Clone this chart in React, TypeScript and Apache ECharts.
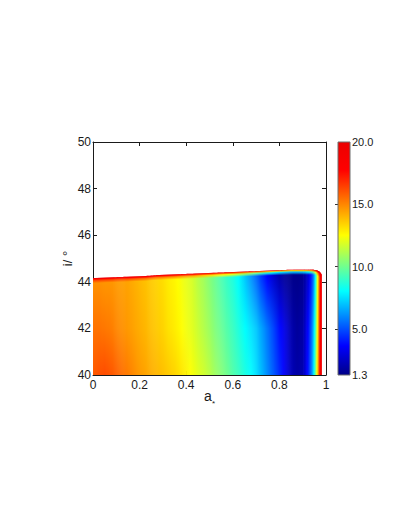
import React, { useEffect, useRef } from "react";
import * as echarts from "echarts";

// spin parameter a* sample positions (last one = right boundary of the region)
const A_STAR = [
  0, 0.025, 0.05, 0.075, 0.1, 0.125, 0.15, 0.175, 0.2, 0.225, 0.25, 0.275, 0.3,
  0.325, 0.35, 0.375, 0.4, 0.425, 0.45, 0.475, 0.5, 0.525, 0.55, 0.575, 0.6,
  0.625, 0.65, 0.675, 0.7, 0.725, 0.75, 0.775, 0.8, 0.825, 0.85, 0.875, 0.9,
  0.915, 0.93, 0.94, 0.948, 0.955, 0.962, 0.968, 0.974, 0.98,
];
// values at i = 40°
const VAL_I40 = [
  15.9, 16.1, 16.2, 16.0, 15.8, 15.5, 15.2, 14.9, 14.6, 14.4, 14.2, 14.0, 13.8,
  13.6, 13.4, 13.1, 12.8, 12.4, 12.0, 11.7, 11.3, 10.8, 10.4, 10.0, 9.5,
  9.1, 8.6, 8.1, 7.5, 6.8, 6.0, 5.2, 4.4, 3.3, 2.3, 1.9, 2.1,
  3.2, 4.8, 6.2, 7.9, 10.0, 12.8, 15.3, 17.8, 20.0,
];
// values at i = 42°
const VAL_I42 = [
  15.4, 15.4, 15.3, 15.2, 15.0, 14.8, 14.6, 14.4, 14.2, 14.0, 13.8, 13.6, 13.4,
  13.1, 12.9, 12.6, 12.3, 12.0, 11.6, 11.2, 10.8, 10.3, 9.9, 9.5, 9.1,
  8.6, 8.1, 7.6, 7.1, 6.4, 5.6, 4.8, 3.9, 3.0, 2.1, 1.7, 1.9,
  3.0, 4.4, 5.7, 7.3, 9.2, 12.0, 14.7, 17.4, 20.0,
];
// values just below the upper boundary
const VAL_TOP = [
  14.8, 14.8, 14.7, 14.7, 14.6, 14.5, 14.4, 14.2, 14.0, 13.8, 13.6, 13.4, 13.2,
  12.9, 12.7, 12.4, 12.1, 11.8, 11.3, 10.9, 10.4, 9.9, 9.4, 9.0, 8.6,
  8.0, 7.2, 6.3, 5.4, 4.5, 3.6, 2.7, 2.0, 1.6, 1.4, 1.35, 1.5,
  2.2, 3.4, 4.6, 6.0, 8.2, 11.2, 14.2, 17.0, 20.0,
];
// upper boundary of the allowed region, i (deg)
const I_EDGE = [
  44.16, 44.17, 44.18, 44.19, 44.2, 44.21, 44.22, 44.23, 44.24, 44.25, 44.27,
  44.29, 44.3, 44.31, 44.32, 44.33, 44.34, 44.35, 44.36, 44.37, 44.38, 44.39,
  44.4, 44.41, 44.42, 44.43, 44.44, 44.45, 44.46, 44.47, 44.48, 44.49, 44.5,
  44.51, 44.52, 44.52, 44.52, 44.52, 44.52, 44.52, 44.51, 44.5, 44.48, 44.45,
  44.4, 44.3,
];
const EDGE_VALUE = 20;
const I_MIN = 40;
const I_MID = 42;

const CBAR_MIN = 1.3;
const CBAR_MAX = 20;
const CBAR_LABELS = [1.3, 5, 10, 15, 20];
const CBAR_TICKS = [5, 10, 15];

const CMAP: [number, number[]][] = [
  [0, [0, 0, 135]],
  [0.125, [0, 0, 255]],
  [0.36, [0, 255, 255]],
  [0.6, [255, 255, 0]],
  [0.88, [255, 0, 0]],
  [1, [235, 0, 0]],
];

const FONT = "'Liberation Sans', Arial, Helvetica, sans-serif";
const INK = "#1a1a1a";
const SUBSTEPS = 6;

function colorAt(v: number): string {
  let f = (v - CBAR_MIN) / (CBAR_MAX - CBAR_MIN);
  f = Math.max(0, Math.min(1, f));
  for (let s = 1; s < CMAP.length; s++) {
    const [f1, c1] = CMAP[s];
    const [f0, c0] = CMAP[s - 1];
    if (f <= f1) {
      const t = (f - f0) / (f1 - f0 || 1);
      const c = c0.map((x, j) => Math.round(x + (c1[j] - x) * t));
      return `rgb(${c[0]},${c[1]},${c[2]})`;
    }
  }
  const c = CMAP[CMAP.length - 1][1];
  return `rgb(${c[0]},${c[1]},${c[2]})`;
}

const mix = (p: number, q: number, t: number) => p + (q - p) * t;

export default function App() {
  const ref = useRef<HTMLDivElement>(null);
  useEffect(() => {
    if (!ref.current) return;
    const chart = echarts.init(ref.current, undefined, { renderer: "svg" });
    const n = A_STAR.length;

    const fieldItem = (params: any, api: any) => {
      const k = params.dataIndex;
      if (k >= n - 1) return { type: "group", children: [] };
      const children: any[] = [];
      for (let s = 0; s < SUBSTEPS; s++) {
        const t0 = s / SUBSTEPS;
        const t1 = (s + 1) / SUBSTEPS;
        const tm = (t0 + t1) / 2;
        const left = mix(A_STAR[k], A_STAR[k + 1], t0);
        const right = mix(A_STAR[k], A_STAR[k + 1], t1);
        const top = mix(I_EDGE[k], I_EDGE[k + 1], tm);
        const v40 = mix(VAL_I40[k], VAL_I40[k + 1], tm);
        const v42 = mix(VAL_I42[k], VAL_I42[k + 1], tm);
        const vt = mix(VAL_TOP[k], VAL_TOP[k + 1], tm);
        const p0 = api.coord([left, I_MIN]);
        const p1 = api.coord([right, top]);
        const span = top - I_MIN;
        const off = (i: number) => Math.max(0, Math.min(1, (i - I_MIN) / span));
        const stops = [
          { offset: 0, color: colorAt(v40) },
          { offset: off(I_MID), color: colorAt(v42) },
          { offset: off(top - 0.22), color: colorAt(vt) },
          { offset: off(top - 0.1), color: colorAt(vt + 0.3 * (EDGE_VALUE - vt)) },
          { offset: off(top - 0.04), color: colorAt(vt + 0.65 * (EDGE_VALUE - vt)) },
          { offset: 1, color: colorAt(EDGE_VALUE) },
        ];
        const last = k === n - 2 && s === SUBSTEPS - 1;
        children.push({
          type: "rect",
          shape: {
            x: p0[0],
            y: p1[1],
            width: p1[0] - p0[0] + (last ? 0 : 0.6),
            height: p0[1] - p1[1],
          },
          style: { fill: new echarts.graphic.LinearGradient(0, 1, 0, 0, stops) },
        });
      }
      return { type: "group", children };
    };

    const cbarItem = (_params: any, api: any) => {
      const p0 = api.coord([0, CBAR_MIN]);
      const p1 = api.coord([1, CBAR_MAX]);
      const stops = CMAP.map(([f, c]) => ({ offset: f, color: `rgb(${c[0]},${c[1]},${c[2]})` }));
      return {
        type: "rect",
        shape: { x: p0[0], y: p1[1], width: p1[0] - p0[0], height: p0[1] - p1[1] },
        style: {
          fill: new echarts.graphic.LinearGradient(0, 1, 0, 0, stops),
          stroke: "#6e6e6e",
          lineWidth: 1,
        },
      };
    };

    const lineStyle = { color: INK, width: 1 };
    const mainLabel = { fontSize: 12, color: INK, fontFamily: FONT };

    chart.setOption({
      animation: false,
      backgroundColor: "#ffffff",
      textStyle: { fontFamily: FONT },
      grid: [
        { left: 93, top: 142, width: 233, height: 233 },
        { left: 338, top: 142, width: 12, height: 233 },
      ],
      xAxis: [
        {
          gridIndex: 0,
          type: "value",
          min: 0,
          max: 1,
          interval: 0.2,
          position: "bottom",
          axisLine: { show: true, onZero: false, lineStyle },
          axisTick: { show: true, inside: true, length: 4, lineStyle },
          axisLabel: { ...mainLabel, margin: 4 },
          splitLine: { show: false },
        },
        {
          gridIndex: 0,
          type: "value",
          min: 0,
          max: 1,
          interval: 0.2,
          position: "top",
          axisLine: { show: true, onZero: false, lineStyle },
          axisTick: { show: true, inside: true, length: 4, lineStyle },
          axisLabel: { show: false },
          splitLine: { show: false },
        },
        { gridIndex: 1, type: "value", min: 0, max: 1, show: false },
      ],
      yAxis: [
        {
          gridIndex: 0,
          type: "value",
          min: 40,
          max: 50,
          interval: 2,
          position: "left",
          axisLine: { show: true, onZero: false, lineStyle },
          axisTick: { show: true, inside: true, length: 4, lineStyle },
          axisLabel: { ...mainLabel, margin: 2 },
          splitLine: { show: false },
          name: "i/ °",
          nameLocation: "middle",
          nameGap: 19,
          nameMoveOverlap: false,
          nameTextStyle: { fontSize: 13, color: INK, fontFamily: FONT },
        },
        {
          gridIndex: 0,
          type: "value",
          min: 40,
          max: 50,
          interval: 2,
          position: "right",
          axisLine: { show: true, onZero: false, lineStyle },
          axisTick: { show: true, inside: true, length: 4, lineStyle },
          axisLabel: { show: false },
          splitLine: { show: false },
        },
        {
          gridIndex: 1,
          type: "value",
          min: CBAR_MIN,
          max: CBAR_MAX,
          position: "right",
          axisLine: { show: false },
          axisTick: {
            show: true,
            inside: true,
            length: 3,
            customValues: CBAR_TICKS,
            lineStyle: { color: "#333", width: 1 },
          },
          axisLabel: {
            fontSize: 11,
            color: INK,
            fontFamily: FONT,
            margin: 2,
            customValues: CBAR_LABELS,
            formatter: (v: number) => v.toFixed(1),
          },
          splitLine: { show: false },
        },
        {
          gridIndex: 1,
          type: "value",
          min: CBAR_MIN,
          max: CBAR_MAX,
          position: "left",
          axisLine: { show: false },
          axisTick: {
            show: true,
            inside: true,
            length: 3,
            customValues: CBAR_TICKS,
            lineStyle: { color: "#333", width: 1 },
          },
          axisLabel: { show: false },
          splitLine: { show: false },
        },
      ],
      graphic: [
        {
          type: "text",
          left: 204,
          top: 389,
          style: { text: "a", fontSize: 14, fill: INK, fontFamily: FONT },
        },
        {
          type: "text",
          left: 212,
          top: 399,
          style: { text: "*", fontSize: 8, fill: INK, fontFamily: FONT },
        },
      ],
      series: [
        {
          type: "custom",
          xAxisIndex: 0,
          yAxisIndex: 0,
          renderItem: fieldItem,
          data: A_STAR.map((a, k) => [a, VAL_I42[k]]),
          encode: { x: 0, y: 1 },
          clip: true,
          silent: true,
          z: 1,
        },
        {
          type: "custom",
          xAxisIndex: 2,
          yAxisIndex: 2,
          renderItem: cbarItem,
          data: [[0.5, CBAR_MAX]],
          encode: { x: 0, y: 1 },
          silent: true,
        },
      ],
    });
    return () => chart.dispose();
  }, []);
  return (
    <div
      ref={ref}
      style={{ position: "absolute", left: 0, top: 0, width: 409, height: 529, background: "#fff" }}
    />
  );
}
